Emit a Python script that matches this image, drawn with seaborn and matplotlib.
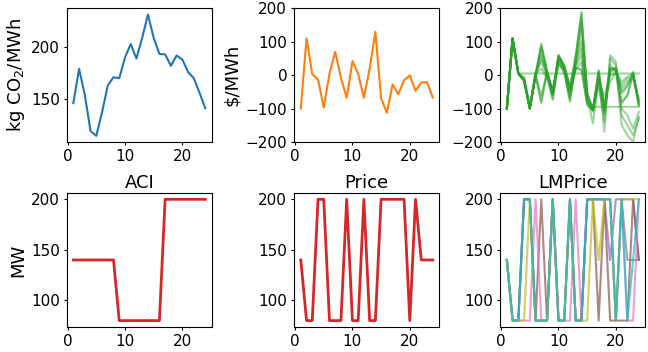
import matplotlib
matplotlib.use("Agg")
import matplotlib.pyplot as plt
import seaborn as sns

plt.rcParams['font.size'] = 11
plt.rcParams['axes.labelsize'] = 13
plt.rcParams['axes.titlesize'] = 13
plt.rcParams['axes.labelpad'] = 3
plt.rcParams['axes.titlepad'] = 4
plt.rcParams['xtick.major.size'] = 2.5
plt.rcParams['ytick.major.size'] = 2.5
plt.rcParams['xtick.major.pad'] = 2.5
plt.rcParams['ytick.major.pad'] = 2.5

hours = list(range(1, 25))

# average carbon intensity (kg CO2/MWh)
aci = [146, 179, 154, 119, 114.5, 137, 163, 171, 170, 190, 203, 189, 209, 231.5,
       209, 193.5, 193, 182, 192, 188, 176, 170, 156, 141]

# system price ($/MWh)
price = [-100, 110, 3, -13, -97, 4, 70, -8, -68, 42, 3, -68, 20, 130,
         -70, -113, -28, -57, -15, -1, -47, -22, -21, -67]

# nodal prices ($/MWh)
lmp_1 = [-100, 110, 5, -15, -100, 0, 95, 10, -60, 60, 30, -35, 55, 190, -55, -105, 15, -100, 20, 20, -50, -30, 10, -85]
lmp_2 = [-100, 110, 5, -12, -100, 2, 90, 12, -58, 58, 28, -32, 58, 185, -60, -105, 12, -105, 15, 22, -55, -35, 8, -88]
lmp_3 = [-100, 110, 5, -15, -100, 0, -85, 10, -55, 55, 25, -40, 20, 15, -90, -105, 10, -110, 15, 20, -80, -60, 5, -90]
lmp_4 = [-100, 110, 5, -15, -100, 0, -80, 12, -50, 55, 22, -42, 22, 18, -85, -105, 5, -110, 18, 18, -85, -62, 3, -92]
lmp_5 = [-100, 110, 5, -10, -98, 5, 60, 5, -45, 45, 20, -60, 40, 130, -70, -105, -10, -80, -20, 10, -40, -20, -10, -75]
lmp_6 = [-100, 110, 5, -5, -95, 8, 40, -5, -40, 35, 15, -70, 35, 100, -75, -100, -20, -60, 0, 5, -30, -10, -5, -70]
lmp_7 = [-100, 110, 5, -20, -100, -5, 75, 0, -70, 50, 10, -80, 50, 160, -50, -110, 0, -170, 60, 40, -120, -150, -180, -130]
lmp_8 = [-100, 110, 5, -15, -100, 2, 20, -10, -75, 40, 5, -75, 30, 80, -65, -145, -20, -140, 50, 30, -150, -180, -200, -125]
lmp_9 = [-100, 110, 5, 5, 5, 5, 5, 5, 5, 5, 5, 5, 5, 5, 5, 5, 5, 5, 5, 5, 5, 5, 5, 5]
lmp_10 = [-100, 110, 5, -15, -100, 0, 85, 15, -60, 60, 25, -45, 45, 170, -60, -95, -95, -95, -95, -95, -95, -95, -95, -95]
lmp_11 = [-100, 110, 5, -15, -100, 0, 50, 5, -50, 50, 25, -50, 25, 60, -80, -100, -30, -120, 30, 10, -100, -120, -160, -110]
lmp_12 = [-100, 110, 5, -15, -100, 0, -60, 5, -55, 30, 20, -55, 15, 40, -85, -105, -10, -100, 10, 15, -20, -5, 5, -80]
lmp_series = [lmp_1, lmp_2, lmp_3, lmp_4, lmp_5, lmp_6, lmp_7, lmp_8, lmp_9, lmp_10, lmp_11, lmp_12]

# storage dispatch (MW) under each signal
disp_aci = [140, 140, 140, 140, 140, 140, 140, 140, 80, 80, 80, 80, 80, 80, 80, 80,
            200, 200, 200, 200, 200, 200, 200, 200]
disp_price = [140, 80, 80, 200, 200, 80, 80, 80, 200, 80, 80, 200, 80, 80, 200, 200,
              200, 200, 200, 80, 200, 140, 140, 140]
disp_lmp_a = [140, 80, 80, 200, 200, 80, 80, 80, 200, 80, 80, 200, 80, 80, 200, 200, 200, 200, 140, 200, 200, 200, 200, 140]
disp_lmp_b = [140, 80, 80, 200, 200, 80, 200, 80, 200, 80, 80, 200, 80, 80, 200, 200, 80, 200, 80, 80, 80, 80, 200, 140]
disp_lmp_c = [140, 80, 80, 80, 80, 200, 80, 80, 200, 80, 80, 80, 200, 80, 200, 200, 200, 200, 200, 80, 200, 80, 80, 200]
disp_lmp_d = [140, 80, 80, 200, 200, 80, 80, 80, 200, 80, 80, 200, 80, 80, 200, 200, 200, 200, 200, 80, 200, 140, 140, 140]
disp_lmp_e = [140, 80, 80, 80, 200, 80, 80, 80, 200, 80, 80, 200, 80, 80, 80, 200, 140, 200, 200, 80, 200, 200, 200, 200]
disp_lmp_f = [140, 80, 80, 200, 200, 80, 80, 80, 200, 80, 80, 200, 80, 80, 200, 200, 200, 200, 200, 80, 200, 80, 140, 200]
disp_lmp = [disp_lmp_a, disp_lmp_b, disp_lmp_c, disp_lmp_d, disp_lmp_e, disp_lmp_f]
disp_lmp_colors = ['C4', 'C5', 'C6', 'C7', 'C8', 'C9']

fig, axes = plt.subplots(2, 3, figsize=(6.48, 3.52), dpi=100)

sns.lineplot(x=hours, y=aci, ax=axes[0, 0], color='C0')
axes[0, 0].set_ylabel('kg CO$_2$/MWh')

sns.lineplot(x=hours, y=price, ax=axes[0, 1], color='C1')
axes[0, 1].set_ylim(-200, 200)
axes[0, 1].set_ylabel('\\$/MWh')

for s in lmp_series:
    sns.lineplot(x=hours, y=s, ax=axes[0, 2], color='C2', alpha=0.45)
axes[0, 2].set_ylim(-200, 200)

sns.lineplot(x=hours, y=disp_aci, ax=axes[1, 0], color='C3', linewidth=2)
axes[1, 0].set_title('ACI')
axes[1, 0].set_ylabel('MW')

sns.lineplot(x=hours, y=disp_price, ax=axes[1, 1], color='C3', linewidth=2)
axes[1, 1].set_title('Price')

for s, c in zip(disp_lmp, disp_lmp_colors):
    sns.lineplot(x=hours, y=s, ax=axes[1, 2], color=c, alpha=0.7)
axes[1, 2].set_title('LMPrice')

lefts = [0.103, 0.454, 0.772]
bottoms = [0.597, 0.072]
for i in range(2):
    for j in range(3):
        axes[i, j].set_position([lefts[j], bottoms[i], 0.224, 0.379])

plt.savefig('out.png', dpi=100)
